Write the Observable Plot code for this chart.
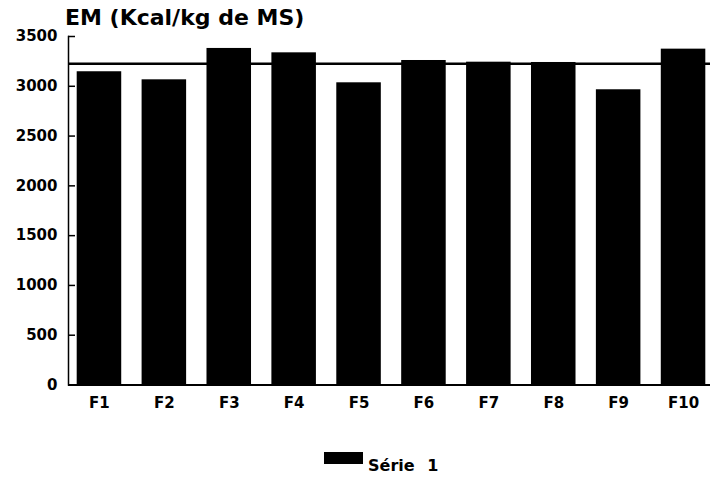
<!DOCTYPE html>
<html>
<head>
<meta charset="utf-8">
<script src="https://cdn.jsdelivr.net/npm/d3@7"></script>
<script src="https://cdn.jsdelivr.net/npm/@observablehq/plot@0.6"></script>
<style>
  html, body { margin: 0; padding: 0; background: #fff; overflow: hidden; }
  #wrap { position: relative; width: 710px; height: 479px; font-family: "DejaVu Sans", sans-serif; font-weight: bold; color: #000; }
  #title { position: absolute; left: 65px; top: 5px; font-size: 22px; line-height: normal; white-space: nowrap; }
  #chart { position: absolute; left: 0; top: 16px; }
  #legend { position: absolute; left: 324px; top: 452px; }
  #legend .sw { position: absolute; left: 0; top: 0; width: 39px; height: 12px; background: #000; }
  #legend .lb { position: absolute; left: 44px; top: 4px; font-size: 16px; line-height: normal; white-space: pre; word-spacing: 7px; }
</style>
</head>
<body>
<div id="wrap">
  <div id="chart"></div>
  <div id="title"></div>
  <div id="legend"><div class="sw"></div><div class="lb"></div></div>
</div>
<script>
const titleText = "EM (Kcal/kg de MS)";
const categories = ["F1", "F2", "F3", "F4", "F5", "F6", "F7", "F8", "F9", "F10"];
const values = [3146, 3065, 3380, 3336, 3035, 3259, 3242, 3239, 2965, 3373];
const refLine = [3226];
const yTicks = [0, 500, 1000, 1500, 2000, 2500, 3000, 3500];
const seriesName = "Série 1";

const data = categories.map((c, i) => ({cat: c, val: values[i]}));

document.getElementById("title").textContent = titleText;
document.querySelector("#legend .lb").textContent = seriesName;

const W = 710, ML = 68, XR = 714, TICK = 7;
const chart = Plot.plot({
  width: W,
  height: 404,
  marginTop: 20,
  marginBottom: 35.5,
  marginLeft: ML,
  marginRight: 0,
  style: {fontFamily: "DejaVu Sans, sans-serif", fontWeight: "bold", color: "#000", background: "transparent", overflow: "visible"},
  x: {type: "band", domain: categories, range: [ML, XR], round: false, paddingInner: 0.314, paddingOuter: 0.134, label: null},
  y: {domain: [0, 3500], label: null},
  marks: [
    Plot.barY(data, {x: "cat", y: "val", fill: "#000"}),
    Plot.ruleY(refLine, {stroke: "#000", strokeWidth: 2.5}),
    Plot.ruleY([0], {stroke: "#000", strokeWidth: 2}),
    Plot.ruleY(yTicks, {stroke: "#000", strokeWidth: 1.5, insetRight: (W - ML) - TICK}),
    Plot.frame({anchor: "left", stroke: "#000", strokeWidth: 1.5}),
    Plot.axisY({ticks: yTicks, tickSize: 0, tickPadding: 11, fontSize: 15, tickFormat: d => String(d), label: null}),
    Plot.axisX({tickSize: 0, tickPadding: 12, fontSize: 15, label: null})
  ]
});
document.getElementById("chart").appendChild(chart);
</script>
</body>
</html>
